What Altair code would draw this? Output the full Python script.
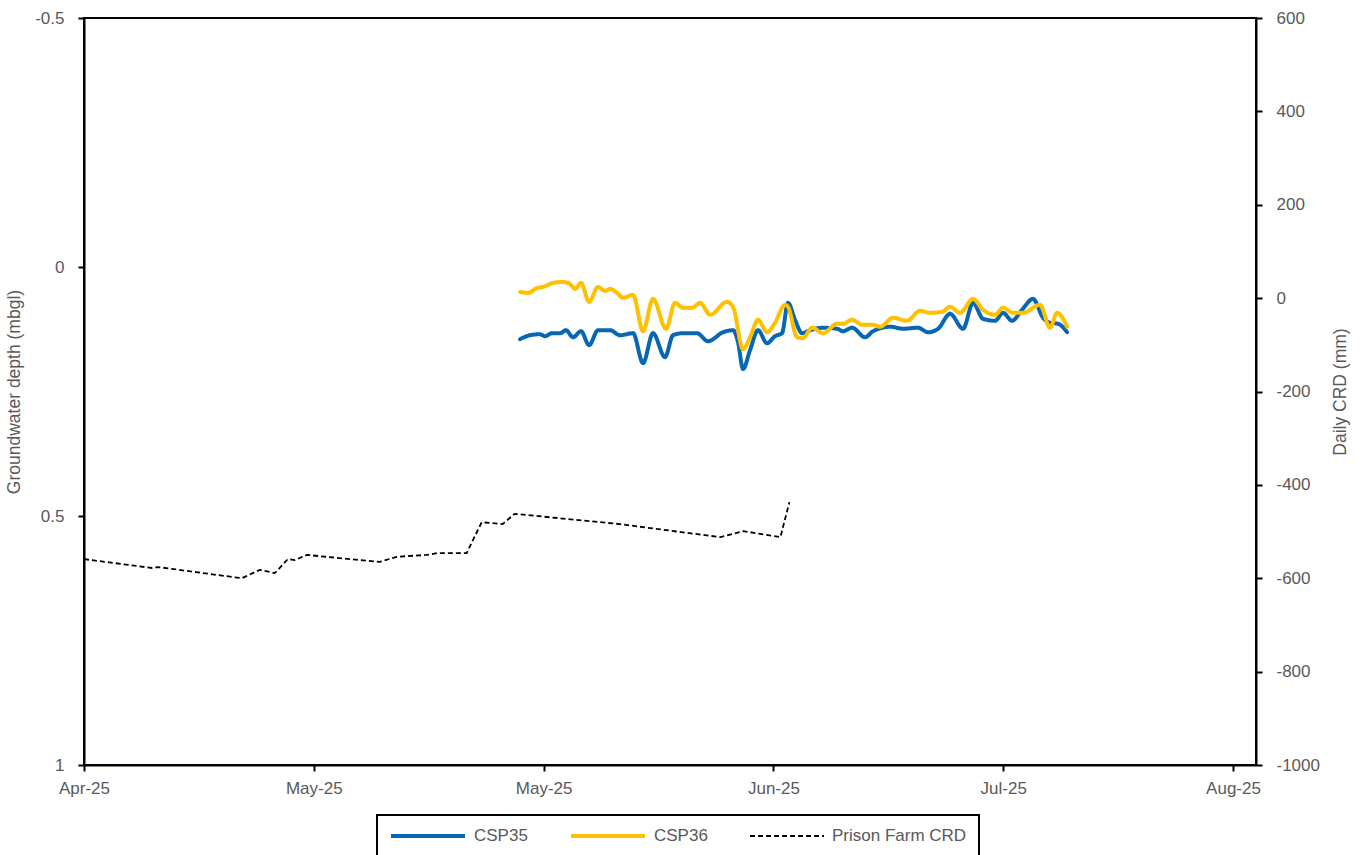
import altair as alt
import pandas as pd

# ---- axis extent and tick dates -------------------------------------------
AXIS_START = "2025-04-08"
AXIS_END = "2025-08-03T07:12:00"
TICK_DATES = ["2025-04-08", "2025-05-01", "2025-05-24",
              "2025-06-16", "2025-07-09", "2025-08-01"]
DEPTH_TICKS = [-0.5, 0, 0.5, 1]
CRD_TICKS = [-1000, -800, -600, -400, -200, 0, 200, 400, 600]

SERIES = ["CSP35", "CSP36", "Prison Farm CRD"]
COLORS = ["#0867B4", "#FFC000", "#000000"]

# ---- groundwater depth (mbgl), days since AXIS_START ----------------------
CSP35_DAY = [43.64, 44.64, 45.64, 46.14, 46.84, 47.64, 48.24, 48.94, 49.75, 50.55,
             51.45, 52.65, 53.65, 54.95, 55.95, 56.95, 58.15, 58.95, 59.95, 61.35,
             62.46, 63.96, 64.96, 65.46, 65.96, 66.66, 67.46, 68.36, 69.16, 69.86,
             70.46, 71.16, 71.87, 72.67, 73.97, 75.37, 75.97, 76.87, 78.17, 78.97,
             80.67, 81.97, 83.47, 84.48, 85.48, 86.68, 87.98, 88.98, 89.98, 91.18,
             91.98, 92.88, 93.88, 94.98, 95.99, 96.69, 97.49, 98.39]
CSP35_DEPTH = [0.145, 0.137, 0.135, 0.139, 0.133, 0.133, 0.127, 0.141, 0.129, 0.157,
               0.127, 0.127, 0.137, 0.133, 0.193, 0.133, 0.181, 0.137, 0.133, 0.133,
               0.149, 0.131, 0.127, 0.151, 0.205, 0.167, 0.127, 0.153, 0.139, 0.133,
               0.072, 0.106, 0.133, 0.127, 0.122, 0.124, 0.129, 0.122, 0.141, 0.129,
               0.120, 0.124, 0.122, 0.131, 0.124, 0.094, 0.124, 0.072, 0.104, 0.108,
               0.092, 0.108, 0.086, 0.064, 0.102, 0.112, 0.114, 0.131]

CSP36_DAY = [43.64, 44.44, 45.34, 45.94, 46.94, 47.94, 48.64, 49.14, 49.75, 50.55,
             51.45, 52.15, 52.65, 53.35, 53.95, 54.95, 55.95, 56.95, 58.25, 59.15,
             59.95, 60.85, 61.66, 62.66, 64.36, 64.96, 65.96, 66.66, 67.46, 68.36,
             69.16, 70.16, 70.46, 71.37, 71.97, 72.87, 73.97, 75.37, 75.97, 76.87,
             77.87, 78.97, 79.67, 80.97, 82.37, 83.68, 84.68, 85.88, 86.68, 87.68,
             88.98, 89.98, 91.18, 91.98, 92.98, 93.98, 95.69, 96.69, 97.39, 98.39]
CSP36_DEPTH = [0.050, 0.052, 0.042, 0.040, 0.032, 0.030, 0.034, 0.044, 0.032, 0.070,
               0.040, 0.048, 0.044, 0.052, 0.062, 0.056, 0.129, 0.064, 0.124, 0.072,
               0.082, 0.082, 0.072, 0.096, 0.070, 0.080, 0.165, 0.141, 0.106, 0.131,
               0.112, 0.076, 0.080, 0.141, 0.143, 0.122, 0.133, 0.114, 0.114, 0.106,
               0.116, 0.116, 0.120, 0.102, 0.108, 0.088, 0.092, 0.090, 0.080, 0.092,
               0.064, 0.086, 0.096, 0.082, 0.092, 0.092, 0.076, 0.122, 0.092, 0.120]

# ---- Prison Farm cumulative rainfall departure (mm) -----------------------
CRD_DAY = [0, 6.8, 7.4, 15.8, 17.6, 19.1, 20.4, 21.1, 22.3, 29.6, 31.3,
           34.3, 35.4, 38.3, 39.8, 41.9, 43.1, 53.6, 63.7, 66.0, 69.7, 70.6]
CRD_MM = [-559, -578, -576, -600, -582, -589, -559, -561, -550, -565, -554,
          -550, -546, -546, -480, -484, -462, -484, -512, -499, -512, -437]

FONT = "Liberation Sans"
GREY = "#595959"


def stamps(days):
    base = pd.Timestamp(AXIS_START)
    return [(base + pd.Timedelta(days=d)).strftime("%Y-%m-%dT%H:%M:%S") for d in days]


def dt(text):
    t = pd.Timestamp(text)
    return alt.DateTime(year=t.year, month=t.month, date=t.day,
                        hours=t.hour, minutes=t.minute)


gw = pd.concat([
    pd.DataFrame({"date": stamps(CSP35_DAY), "depth": CSP35_DEPTH, "series": "CSP35"}),
    pd.DataFrame({"date": stamps(CSP36_DAY), "depth": CSP36_DEPTH, "series": "CSP36"}),
])
crd = pd.DataFrame({"date": stamps(CRD_DAY), "crd": CRD_MM, "series": "Prison Farm CRD"})

legend = alt.Legend(
    title=None, orient="none", legendX=293, legendY=797, direction="horizontal",
    symbolType="stroke", symbolSize=74 * 74, clipHeight=18,
    labelFont=FONT, labelFontSize=17, labelColor=GREY, labelOffset=7, labelLimit=0,
    columnPadding=41, padding=12, strokeColor="black",
)

x_enc = alt.X(
    "date:T",
    scale=alt.Scale(domain=[dt(AXIS_START), dt(AXIS_END)]),
    axis=alt.Axis(values=[dt(t) for t in TICK_DATES], format="%b-%y", title=None,
                  labelFlush=False, labelOverlap=False, labelPadding=9),
)
color = alt.Color("series:N", scale=alt.Scale(domain=SERIES, range=COLORS), legend=legend)
dash = alt.StrokeDash("series:N",
                      scale=alt.Scale(domain=SERIES, range=[[1, 0], [1, 0], [5, 3]]),
                      legend=legend)
width = alt.StrokeWidth("series:N",
                        scale=alt.Scale(type="ordinal", domain=SERIES, range=[4, 4, 1.8]),
                        legend=legend)

depth_lines = alt.Chart(gw).mark_line(interpolate="monotone", strokeCap="round").encode(
    x=x_enc,
    y=alt.Y("depth:Q",
            scale=alt.Scale(domain=[-0.5, 1], reverse=True, nice=False, zero=False),
            axis=alt.Axis(orient="left", values=DEPTH_TICKS, labelExpr="'' + datum.value",
                          title="Groundwater depth (mbgl)", labelPadding=14,
                          titlePadding=11)),
    color=color, strokeDash=dash, strokeWidth=width,
)

crd_line = alt.Chart(crd).mark_line().encode(
    x=x_enc,
    y=alt.Y("crd:Q",
            scale=alt.Scale(domain=[-1000, 600], nice=False, zero=False),
            axis=alt.Axis(orient="right", values=CRD_TICKS, labelExpr="'' + datum.value",
                          title="Daily CRD (mm)", titleAngle=270, titleBaseline="top",
                          labelPadding=14, titlePadding=12)),
    color=color, strokeDash=dash, strokeWidth=width,
)

chart = (
    alt.layer(depth_lines, crd_line)
    .resolve_scale(y="independent")
    .properties(
        width=1172, height=747,
        padding={"left": 84, "top": 18, "right": 111, "bottom": 90},
        autosize=alt.AutoSizeParams(type="none"),
        background="white",
    )
    .configure_view(stroke="black", strokeWidth=2)
    .configure_axis(
        labelFont=FONT, labelFontSize=17, labelColor=GREY,
        titleFont=FONT, titleFontSize=17.5, titleFontWeight="normal", titleColor=GREY,
        domainColor="black", domainWidth=2, tickColor="black", tickWidth=2,
        tickSize=6, grid=False,
    )
    .configure_legend(strokeWidth=2)
)

chart.save("out.html", embed_options={"renderer": "svg", "actions": False})
